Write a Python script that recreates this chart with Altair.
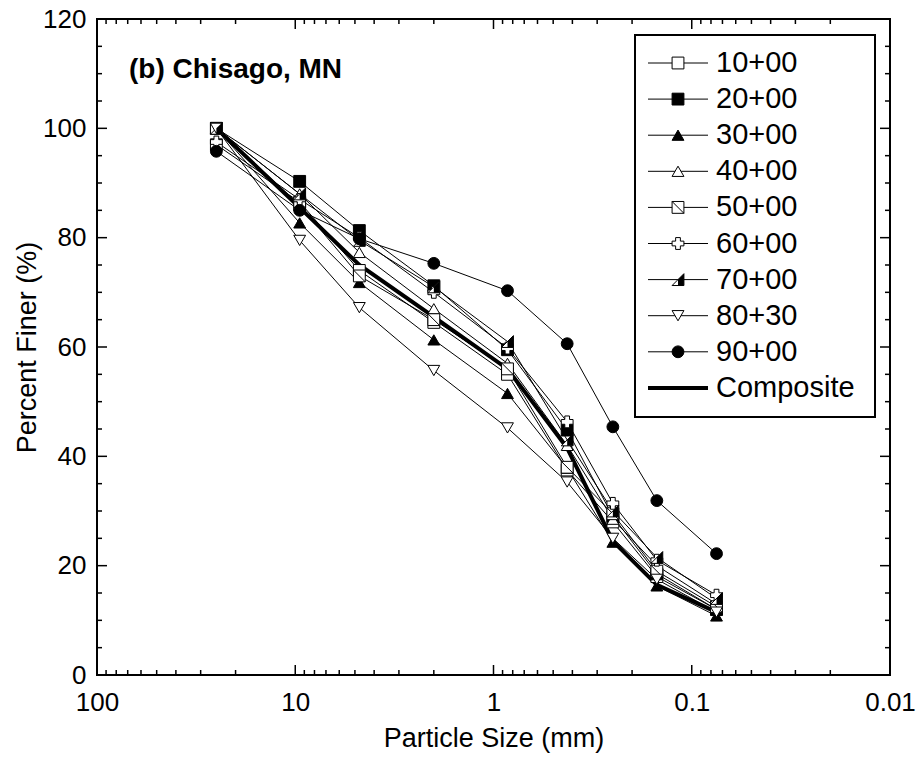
import altair as alt
import pandas as pd

# ---------------- data ----------------
sizes = [25, 9.5, 4.75, 2.0, 0.85, 0.425, 0.25, 0.15, 0.075]
names = ["10+00", "20+00", "30+00", "40+00", "50+00", "60+00", "70+00", "80+30", "90+00", "Composite"]
s10 = [97.0, 86.5, 74.0, 64.5, 55.0, 37.5, 28.0, 18.0, 12.0]
s20 = [100.0, 90.3, 81.3, 71.2, 59.5, 44.8, 29.0, 18.5, 12.0]
s30 = [100.0, 82.7, 71.8, 61.3, 51.5, 37.8, 24.3, 16.3, 10.8]
s40 = [100.0, 88.0, 77.3, 67.0, 57.0, 42.0, 28.5, 20.0, 13.0]
s50 = [100.0, 86.0, 73.0, 65.0, 56.0, 38.0, 29.5, 19.0, 12.5]
s60 = [97.5, 87.0, 80.0, 70.0, 59.8, 46.3, 31.4, 21.0, 14.6]
s70 = [100.0, 88.0, 79.5, 71.0, 61.0, 43.0, 30.0, 21.5, 14.0]
s80 = [100.0, 79.5, 67.2, 55.7, 45.2, 35.3, 25.0, 17.5, 11.5]
s90 = [95.8, 85.0, 79.8, 75.3, 70.3, 60.6, 45.4, 31.9, 22.2]
comp = [100.0, 85.5, 75.0, 65.5, 56.0, 41.5, 24.5, 16.5, 11.5]
series_values = [s10, s20, s30, s40, s50, s60, s70, s80, s90, comp]

x_major = [100, 10, 1, 0.1, 0.01]
x_minor = [m * 10.0 ** e for e in (-2, -1, 0, 1) for m in range(2, 10)]
y_major = [0, 20, 40, 60, 80, 100, 120]
y_minor = [v for v in range(5, 120, 5) if v % 20 != 0]

rows = []
for n, vals in zip(names, series_values):
    for i, (sz, v) in enumerate(zip(sizes, vals)):
        rows.append({"series": n, "size": sz, "pf": v, "ord": i})
df = pd.DataFrame(rows)

# ---------------- styles ----------------
FONT = "Liberation Sans"
W, H = 793, 656
marker_names = names[:9]
shape_range = [
    "square", "square", "triangle-up", "triangle-up",
    "M-1,-1L1,-1L1,1L-1,1Z M-1,-1L1,1",
    "cross",
    "M-1,1L1,-1L1,1Z",
    "triangle-down", "circle",
]
fill_range = ["white", "black", "black", "white", "white", "white", "white", "white", "black"]
half_path = "M0,0L1,-1L1,1L0,1Z"
MSIZE = 140

xscale = alt.Scale(type="log", domain=[0.01, 100], reverse=True)
yscale = alt.Scale(domain=[0, 120], nice=False, zero=False)

xaxis = alt.Axis(values=x_major, labelExpr="'' + datum.value", ticks=False, domain=False,
                 grid=False, title="Particle Size (mm)", labelPadding=14, labelFlush=False,
                 labelOverlap=False, titleY=63, titleBaseline="middle")
yaxis = alt.Axis(values=y_major, ticks=False, domain=False, grid=False,
                 title="Percent Finer (%)", labelPadding=11, titleX=-70, titleY=H / 2,
                 titleBaseline="middle", titleAngle=270)

X = alt.X("size:Q", scale=xscale, axis=xaxis)
Y = alt.Y("pf:Q", scale=yscale, axis=yaxis)

shape_enc = alt.Shape("series:N", scale=alt.Scale(domain=marker_names, range=shape_range), legend=None)
fill_enc = alt.Fill("series:N", scale=alt.Scale(domain=marker_names, range=fill_range), legend=None)

base = alt.Chart(df)

thin_lines = base.transform_filter(alt.datum.series != "Composite").mark_line(
    color="black", strokeWidth=1).encode(x=X, y=Y, detail="series:N", order="ord:Q")
comp_line = base.transform_filter(alt.datum.series == "Composite").mark_line(
    color="black", strokeWidth=4).encode(x=X, y=Y, order="ord:Q")
points = base.transform_filter(alt.datum.series != "Composite").mark_point(
    filled=True, stroke="black", strokeWidth=1, size=MSIZE, opacity=1).encode(
    x=X, y=Y, shape=shape_enc, fill=fill_enc)
half = base.transform_filter(alt.datum.series == "70+00").mark_point(
    filled=True, shape=half_path, color="black", size=MSIZE, opacity=1, strokeWidth=0).encode(x=X, y=Y)

# ticks (inside the frame)
xmaj = pd.DataFrame({"size": x_major[1:-1]})
xmin = pd.DataFrame({"size": x_minor})
ymaj = pd.DataFrame({"pf": y_major[1:-1]})
ymin = pd.DataFrame({"pf": y_minor})
tick_layers = []
for d, L in ((xmaj, 10), (xmin, 5)):
    tick_layers.append(alt.Chart(d).mark_rule(color="black", strokeWidth=1.5).encode(
        x=X, y=alt.value(H - L), y2=alt.value(H)))
    tick_layers.append(alt.Chart(d).mark_rule(color="black", strokeWidth=1.5).encode(
        x=X, y=alt.value(0), y2=alt.value(L)))
for d, L in ((ymaj, 10), (ymin, 5)):
    tick_layers.append(alt.Chart(d).mark_rule(color="black", strokeWidth=1.5).encode(
        y=Y, x=alt.value(0), x2=alt.value(L)))
    tick_layers.append(alt.Chart(d).mark_rule(color="black", strokeWidth=1.5).encode(
        y=Y, x=alt.value(W - L), x2=alt.value(W)))

one = pd.DataFrame({"k": [0]})
title = alt.Chart(one).mark_text(text="(b) Chisago, MN", font=FONT, fontSize=28, fontWeight="bold",
                                 align="left", baseline="alphabetic", color="black").encode(
    x=alt.value(32), y=alt.value(59))

# legend
LX0, LX1, LY0, LY1 = 538, 778, 16, 398
legend_layers = [alt.Chart(one).mark_rect(fill="white", stroke="black", strokeWidth=2).encode(
    x=alt.value(LX0), x2=alt.value(LX1), y=alt.value(LY0), y2=alt.value(LY1))]
for i, n in enumerate(names):
    py = 44 + i * 36.1
    dn = pd.DataFrame({"series": [n]})
    lw = 4 if n == "Composite" else 1
    legend_layers.append(alt.Chart(dn).mark_rule(color="black", strokeWidth=lw).encode(
        x=alt.value(551), x2=alt.value(611), y=alt.value(py)))
    if n != "Composite":
        legend_layers.append(alt.Chart(dn).mark_point(
            filled=True, stroke="black", strokeWidth=1, size=MSIZE, opacity=1).encode(
            x=alt.value(581), y=alt.value(py), shape=shape_enc, fill=fill_enc))
        if n == "70+00":
            legend_layers.append(alt.Chart(dn).mark_point(
                filled=True, shape=half_path, color="black", size=MSIZE, opacity=1, strokeWidth=0).encode(
                x=alt.value(581), y=alt.value(py)))
    legend_layers.append(alt.Chart(dn).mark_text(
        font=FONT, fontSize=29, align="left", baseline="middle", color="black").encode(
        x=alt.value(619), y=alt.value(py), text=alt.value(n)))

chart = alt.layer(
    thin_lines, comp_line, points, half, *tick_layers, title, *legend_layers
).properties(
    width=W, height=H,
    autosize=alt.AutoSizeParams(type="none"),
    padding={"left": 97, "top": 19, "right": 30, "bottom": 85},
    background="white",
).configure_view(
    stroke="black", strokeWidth=2
).configure_axis(
    labelFont=FONT, labelFontSize=26, labelColor="black",
    titleFont=FONT, titleFontSize=27, titleFontWeight="normal", titleColor="black",
)

chart.save("out.html", embed_options={"renderer": "svg", "actions": False})
